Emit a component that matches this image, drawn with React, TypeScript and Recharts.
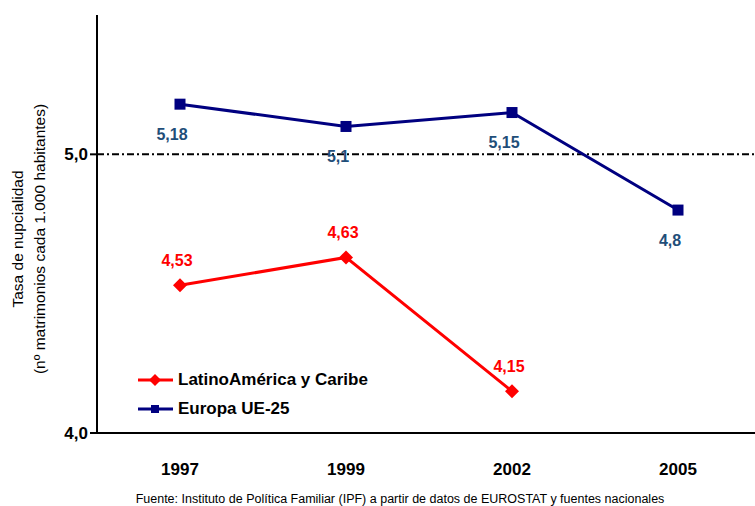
import { LineChart, Line, XAxis, YAxis, ReferenceLine, LabelList } from "recharts";

const years = ["1997", "1999", "2002", "2005"];
const latam = [4.53, 4.63, 4.15, null];
const europa = [5.18, 5.1, 5.15, 4.8];
const yTicks = [4, 5];

const data = years.map((year, i) => ({ year, latam: latam[i], europa: europa[i] }));

const FONT = "Arial, 'Liberation Sans', sans-serif";
const RED = "#FF0000";
const NAVY = "#000080";
const EU_LABEL = "#1F4E79";

const fmt = (v: number) => String(v).replace(".", ",");

const Diamond = (props: any) => {
  const { cx, cy } = props;
  if (cx == null || cy == null) return null;
  const r = 7;
  return <path d={`M${cx},${cy - r}L${cx + r},${cy}L${cx},${cy + r}L${cx - r},${cy}Z`} fill={RED} />;
};

const Square = (props: any) => {
  const { cx, cy } = props;
  if (cx == null || cy == null) return null;
  return <rect x={cx - 5.5} y={cy - 5.5} width={11} height={11} fill={NAVY} />;
};

const makeLabel = (color: string, dx: number, dy: number) => (props: any) => {
  const { x, y, value } = props;
  if (value == null) return null;
  return (
    <text x={x + dx} y={y + dy} fill={color} fontFamily={FONT} fontSize={16} fontWeight="bold" textAnchor="middle" dominantBaseline="central">
      {fmt(value)}
    </text>
  );
};

const XTick = (props: any) => {
  const { x, y, payload } = props;
  return (
    <text x={x} y={y + 34} fontFamily={FONT} fontSize={17} fontWeight="bold" textAnchor="middle" fill="#000">
      {payload.value}
    </text>
  );
};

const YTick = (props: any) => {
  const { x, y, payload } = props;
  return (
    <text x={x} y={y} dy={6} fontFamily={FONT} fontSize={17} fontWeight="bold" textAnchor="end" fill="#000">
      {payload.value.toFixed(1).replace(".", ",")}
    </text>
  );
};

const YLabel = () => (
  <g transform="translate(0,239) rotate(-90)" fontFamily={FONT} fontSize={15.5} fill="#000">
    <text x={0} y={23} textAnchor="middle">Tasa de nupcialidad</text>
    <text x={0} y={45} textAnchor="middle">(nº matrimonios cada 1.000 habitantes)</text>
  </g>
);

const LegendBox = () => (
  <div style={{ fontFamily: FONT, fontSize: 17, fontWeight: "bold", color: "#000" }}>
    <div style={{ display: "flex", alignItems: "center", height: 29 }}>
      <svg width={38} height={16}>
        <line x1={1} y1={8} x2={36} y2={8} stroke={RED} strokeWidth={3} />
        <path d="M18,2L24,8L18,14L12,8Z" fill={RED} />
      </svg>
      <span style={{ marginLeft: 3 }}>LatinoAmérica y Caribe</span>
    </div>
    <div style={{ display: "flex", alignItems: "center", height: 29 }}>
      <svg width={38} height={16}>
        <line x1={1} y1={8} x2={36} y2={8} stroke={NAVY} strokeWidth={3} />
        <rect x={14} y={4} width={8} height={8} fill={NAVY} />
      </svg>
      <span style={{ marginLeft: 3 }}>Europa UE-25</span>
    </div>
  </div>
);

export default function App() {
  return (
    <div style={{ position: "absolute", left: 0, top: 0, width: 755, height: 506, overflow: "hidden", background: "#fff" }}>
      <LineChart width={761} height={506} data={data} margin={{ top: 15, right: 0, bottom: 43, left: 0 }}>
        <XAxis
          dataKey="year"
          tick={<XTick />}
          tickLine={false}
          axisLine={{ stroke: "#000", strokeWidth: 2 }}
          height={30}
          padding={{ left: 83, right: 83 }}
        />
        <YAxis
          domain={[4, 5.5]}
          ticks={yTicks}
          tick={<YTick />}
          tickSize={7}
          tickMargin={2}
          tickLine={{ stroke: "#000", strokeWidth: 2 }}
          axisLine={{ stroke: "#000", strokeWidth: 2 }}
          width={97}
          label={<YLabel />}
        />
        <ReferenceLine y={5} stroke="#000" strokeWidth={2} strokeDasharray="7 3 2 3" />
        <Line
          dataKey="latam"
          stroke={RED}
          strokeWidth={3}
          dot={<Diamond />}
          activeDot={false}
          isAnimationActive={false}
          connectNulls={false}
        >
          <LabelList dataKey="latam" content={makeLabel(RED, -3, -25)} />
        </Line>
        <Line
          dataKey="europa"
          stroke={NAVY}
          strokeWidth={3}
          dot={<Square />}
          activeDot={false}
          isAnimationActive={false}
        >
          <LabelList dataKey="europa" content={makeLabel(EU_LABEL, -8, 30)} />
        </Line>
      </LineChart>
      <div style={{ position: "absolute", left: 137, top: 365, width: 260 }}>
        <LegendBox />
      </div>
      <div
        style={{
          position: "absolute",
          left: 0,
          width: 800,
          top: 492,
          textAlign: "center",
          fontFamily: FONT,
          fontSize: 12.5,
          color: "#000",
        }}
      >
        Fuente: Instituto de Política Familiar (IPF) a partir de datos de EUROSTAT y fuentes nacionales
      </div>
    </div>
  );
}
